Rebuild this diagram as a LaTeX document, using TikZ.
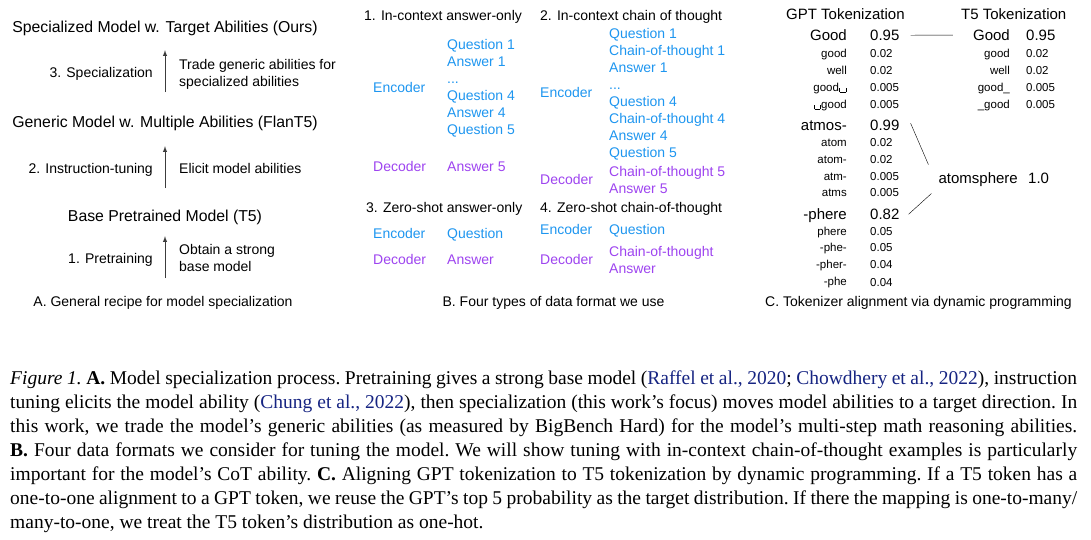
\documentclass[tikz,border=0pt]{standalone}
\usepackage{fontspec}
\setmainfont{Liberation Serif}
\setsansfont{Liberation Sans}
\usetikzlibrary{arrows}
\definecolor{encblue}{RGB}{30,150,240}
\definecolor{decpurple}{RGB}{158,68,240}
\definecolor{citeblue}{RGB}{22,36,130}
\definecolor{arrowgray}{RGB}{60,60,60}
\newcommand{\opensp}{\kern.04em\raisebox{-.12em}{\vrule width .07em height .38em depth 0pt\vrule width .46em height .07em depth 0pt\vrule width .07em height .38em depth 0pt}\kern.04em}
\newcommand{\citecol}[1]{\textcolor{citeblue}{#1}}
\tikzset{
  heading/.style={font=\sffamily\fontsize{15.8}{19}\selectfont,inner sep=0,anchor=base},
  lbl/.style={font=\sffamily\fontsize{14}{17}\selectfont,inner sep=0},
  enc/.style={lbl,text=encblue,anchor=base west},
  dec/.style={lbl,text=decpurple,anchor=base west},
  tokbig/.style={font=\sffamily\fontsize{15}{18}\selectfont,inner sep=0},
  toksmall/.style={font=\sffamily\fontsize{11.5}{14}\selectfont,inner sep=0},
  stage/.style={draw=arrowgray,line width=1pt,-latex},
  capt/.style={font=\rmfamily\fontsize{19.5}{24}\selectfont\frenchspacing,inner sep=0,anchor=base west,text width=1067pt,align=justify}
}

\begin{document}
\begin{tikzpicture}[x=1pt,y=-1pt]
  \path[use as bounding box,fill=white](0,0) rectangle (1091,539);

  \draw(165,32.7) node[heading] (spec) {Specialized Model w. Target Abilities (Ours)};
  \draw(153,77) node[lbl,anchor=base east] (s3) {3. Specialization};
  \draw(179,69) node[lbl,anchor=base west] (s3a) {Trade generic abilities for};
  \draw(179,86) node[lbl,anchor=base west] (s3b) {specialized abilities};
  \draw(165,127.7) node[heading] (gen) {Generic Model w. Multiple Abilities (FlanT5)};
  \draw(153,173) node[lbl,anchor=base east] (s2) {2. Instruction-tuning};
  \draw(179,173) node[lbl,anchor=base west] (s2a) {Elicit model abilities};
  \draw(165,221.7) node[heading] (base) {Base Pretrained Model (T5)};
  \draw(153,263) node[lbl,anchor=base east] (s1) {1. Pretraining};
  \draw(179,254) node[lbl,anchor=base west] (s1a) {Obtain a strong};
  \draw(179,271) node[lbl,anchor=base west] (s1b) {base model};
  \draw(163,306) node[lbl,anchor=base] (capA) {A. General recipe for model specialization};
  \coordinate (pre) at (165,278);
  \draw[stage,shorten <=24pt,shorten >=14pt](gen.north)--(spec.south);
  \draw[stage,shorten <=22pt,shorten >=15pt](base.north)--(gen.south);
  \draw[stage,shorten >=11pt](pre)--(base.south);

  \draw(364,20) node[lbl,anchor=base west] (fmt1) {1. In-context answer-only};
  \draw(540,20) node[lbl,anchor=base west] (fmt2) {2. In-context chain of thought};
  \draw(373,92) node[enc] (enc1) {Encoder};
  \draw(447,49) node[enc] (q1a) {Question 1};
  \draw(447,66) node[enc] (a1a) {Answer 1};
  \draw(447,83) node[enc] (dots1) {...};
  \draw(447,100) node[enc] (q4a) {Question 4};
  \draw(447,117) node[enc] (a4a) {Answer 4};
  \draw(447,134) node[enc] (q5a) {Question 5};
  \draw(373,171) node[dec] (dec1) {Decoder};
  \draw(447,171) node[dec] (a5a) {Answer 5};
  \draw(540,97) node[enc] (enc2) {Encoder};
  \draw(609,38) node[enc] (q1b) {Question 1};
  \draw(609,55) node[enc] (c1b) {Chain-of-thought 1};
  \draw(609,72) node[enc] (a1b) {Answer 1};
  \draw(609,89) node[enc] (dots2) {...};
  \draw(609,106) node[enc] (q4b) {Question 4};
  \draw(609,123) node[enc] (c4b) {Chain-of-thought 4};
  \draw(609,140) node[enc] (a4b) {Answer 4};
  \draw(609,157) node[enc] (q5b) {Question 5};
  \draw(540,184) node[dec] (dec2) {Decoder};
  \draw(609,176) node[dec] (c5b) {Chain-of-thought 5};
  \draw(609,193) node[dec] (a5b) {Answer 5};
  \draw(366,212) node[lbl,anchor=base west] (fmt3) {3. Zero-shot answer-only};
  \draw(540,212) node[lbl,anchor=base west] (fmt4) {4. Zero-shot chain-of-thought};
  \draw(373,238) node[enc] (enc3) {Encoder};
  \draw(447,238) node[enc] (q3) {Question};
  \draw(373,264) node[dec] (dec3) {Decoder};
  \draw(447,264) node[dec] (a3) {Answer};
  \draw(540,234) node[enc] (enc4) {Encoder};
  \draw(609,234) node[enc] (q4) {Question};
  \draw(540,264) node[dec] (dec4) {Decoder};
  \draw(609,256) node[dec] (c4) {Chain-of-thought};
  \draw(609,273) node[dec] (a4) {Answer};
  \draw(553.5,306) node[lbl,anchor=base] (capB) {B. Four types of data format we use};

  \draw(786,19.4) node[tokbig,anchor=base west] (gpt) {GPT Tokenization};
  \draw(961,19.4) node[tokbig,anchor=base west] (tfive) {T5 Tokenization};
  \draw(847,40.4) node[tokbig,anchor=base east] (gGood) {Good};
  \draw(870,40.4) node[tokbig,anchor=base west] (pGood) {0.95};
  \draw(847,57) node[toksmall,anchor=base east] (ggood) {good};
  \draw(870,57) node[toksmall,anchor=base west] (pgood) {0.02};
  \draw(847,74) node[toksmall,anchor=base east] (gwell) {well};
  \draw(870,74) node[toksmall,anchor=base west] (pwell) {0.02};
  \draw(847,91) node[toksmall,anchor=base east] (ggoodsp) {good\opensp};
  \draw(870,91) node[toksmall,anchor=base west] (pgoodsp) {0.005};
  \draw(847,108) node[toksmall,anchor=base east] (gspgood) {\opensp good};
  \draw(870,108) node[toksmall,anchor=base west] (pspgood) {0.005};
  \draw(847,130.4) node[tokbig,anchor=base east] (gatmos) {atmos-};
  \draw(870,130.4) node[tokbig,anchor=base west] (patmos) {0.99};
  \draw(847,146) node[toksmall,anchor=base east] (gatom) {atom};
  \draw(870,146) node[toksmall,anchor=base west] (patom) {0.02};
  \draw(847,163) node[toksmall,anchor=base east] (gatomh) {atom-};
  \draw(870,163) node[toksmall,anchor=base west] (patomh) {0.02};
  \draw(847,180) node[toksmall,anchor=base east] (gatm) {atm-};
  \draw(870,180) node[toksmall,anchor=base west] (patm) {0.005};
  \draw(847,196) node[toksmall,anchor=base east] (gatms) {atms};
  \draw(870,196) node[toksmall,anchor=base west] (patms) {0.005};
  \draw(847,219.4) node[tokbig,anchor=base east] (gphere) {-phere};
  \draw(870,219.4) node[tokbig,anchor=base west] (pphere) {0.82};
  \draw(847,235) node[toksmall,anchor=base east] (gphere2) {phere};
  \draw(870,235) node[toksmall,anchor=base west] (pphere2) {0.05};
  \draw(847,251) node[toksmall,anchor=base east] (gphe) {-phe-};
  \draw(870,251) node[toksmall,anchor=base west] (pphe) {0.05};
  \draw(847,268) node[toksmall,anchor=base east] (gpher) {-pher-};
  \draw(870,268) node[toksmall,anchor=base west] (ppher) {0.04};
  \draw(847,285) node[toksmall,anchor=base east] (gphe2) {-phe};
  \draw(870,286) node[toksmall,anchor=base west] (pphe2) {0.04};
  \draw(1010,40.4) node[tokbig,anchor=base east] (tGood) {Good};
  \draw(1026,40.4) node[tokbig,anchor=base west] (qGood) {0.95};
  \draw(1010,57) node[toksmall,anchor=base east] (tgood) {good};
  \draw(1026,57) node[toksmall,anchor=base west] (qgood) {0.02};
  \draw(1010,74) node[toksmall,anchor=base east] (twell) {well};
  \draw(1026,74) node[toksmall,anchor=base west] (qwell) {0.02};
  \draw(1010,91) node[toksmall,anchor=base east] (tgoodsp) {good\_};
  \draw(1026,91) node[toksmall,anchor=base west] (qgoodsp) {0.005};
  \draw(1010,108) node[toksmall,anchor=base east] (tspgood) {\_good};
  \draw(1026,108) node[toksmall,anchor=base west] (qspgood) {0.005};
  \draw(1018,183.4) node[tokbig,anchor=base east] (tatmo) {atomsphere};
  \draw(1028,183.4) node[tokbig,anchor=base west] (qatmo) {1.0};
  \draw[shorten <=11pt,shorten >=20pt](pGood.east)--(tGood.west);
  \draw([shift={(11,-2)}]patmos.east)--([shift={(-10,-15)}]tatmo.west);
  \draw([shift={(9,0)}]pphere.east)--([shift={(-7,14)}]tatmo.west);
  \draw(918.5,306) node[lbl,anchor=base] (capC) {C. Tokenizer alignment via dynamic programming};

  \draw(10,384) node[capt] (capt) {\textit{Figure 1.} \textbf{A.} Model specialization process. Pretraining gives a strong base model (\citecol{Raffel et al., 2020}; \citecol{Chowdhery et al., 2022}), instruction\linebreak
  tuning elicits the model ability (\citecol{Chung et al., 2022}), then specialization (this work’s focus) moves model abilities to a target direction. In\linebreak
  this work, we trade the model’s generic abilities (as measured by BigBench Hard) for the model’s multi-step math reasoning abilities.\linebreak
  \textbf{B.} Four data formats we consider for tuning the model. We will show tuning with in-context chain-of-thought examples is particularly\linebreak
  important for the model’s CoT ability. \textbf{C.} Aligning GPT tokenization to T5 tokenization by dynamic programming. If a T5 token has a\linebreak
  one-to-one alignment to a GPT token, we reuse the GPT’s top 5 probability as the target distribution. If there the mapping is one-to-many/\linebreak
  many-to-one, we treat the T5 token’s distribution as one-hot.};
\end{tikzpicture}
\end{document}
